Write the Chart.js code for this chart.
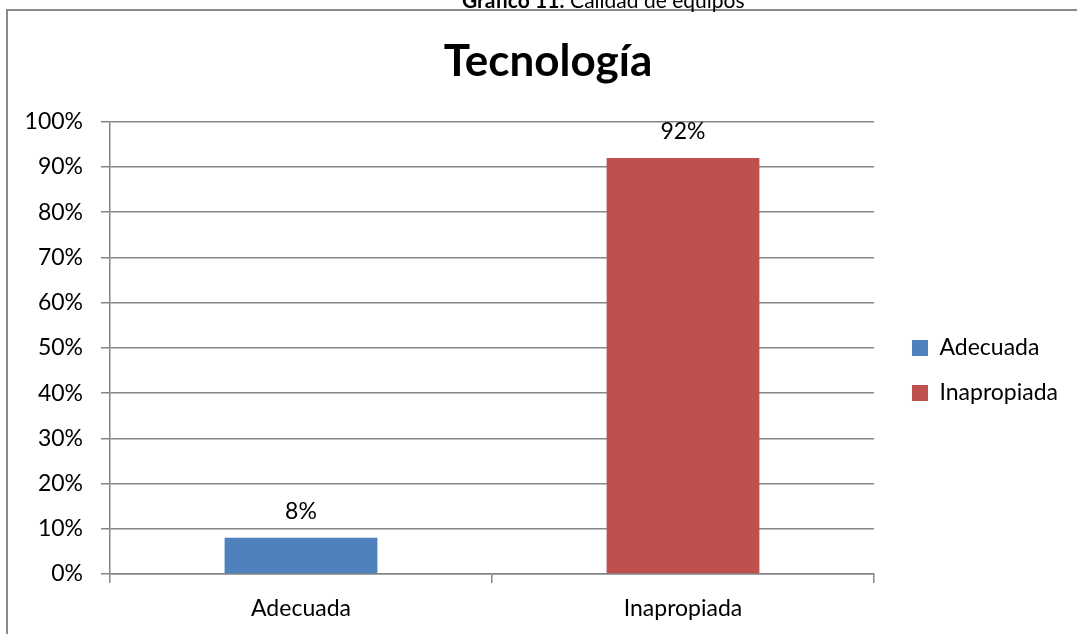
<!DOCTYPE html>
<html>
<head>
<meta charset="utf-8">
<script src="https://cdn.jsdelivr.net/npm/chart.js@4.4.0/dist/chart.umd.min.js"></script>
<style>
  body { margin: 0; background: #fff; overflow: hidden; font-family: Lato, sans-serif; }
  #caption { position: absolute; left: 462px; top: -11px; font-size: 21px; line-height: 1; white-space: nowrap; color: #000; }
  #frame { position: absolute; left: 6px; top: 9px; width: 1200px; height: 700px; border: 2px solid #8a8a8a; }
  #chart { display: block; }
</style>
</head>
<body>
<div id="frame"><canvas id="chart" width="1069" height="623"></canvas></div>
<div id="caption"><b>Gráfico 11:</b> Calidad de equipos</div>
<script>
// chart data
const categories = ["Adecuada", "Inapropiada"];
const seriesNames = ["Adecuada", "Inapropiada"];
const adecuadaValues = [8, null];
const inapropiadaValues = [null, 92];
const yTicks = [0, 10, 20, 30, 40, 50, 60, 70, 80, 90, 100];

const blue = "#4F81BD";
const red = "#C0504D";
const gridGray = "#868686";

Chart.defaults.font.family = "Lato, sans-serif";
Chart.defaults.color = "#000";

// value labels on top of the bars
const barLabels = {
  id: "barLabels",
  afterDatasetsDraw(chart) {
    const ctx = chart.ctx;
    ctx.save();
    ctx.font = "23px Lato";
    ctx.fillStyle = "#000";
    ctx.textAlign = "center";
    ctx.textBaseline = "alphabetic";
    chart.data.datasets.forEach((ds, i) => {
      chart.getDatasetMeta(i).data.forEach((bar, j) => {
        if (ds.data[j] == null) return;
        ctx.fillText(ds.data[j] + "%", bar.x, bar.y - 19);
      });
    });
    ctx.restore();
  },
};

// excel puts the legend lower / further right and the title a bit right
const layoutNudge = {
  id: "layoutNudge",
  afterLayout(chart) {
    const lg = chart.legend;
    lg.left += 16; lg.right += 16;
    lg.top += 22.5; lg.bottom += 22.5;
    const tb = chart.titleBlock;
    tb.left += 18; tb.right += 18;
  },
};

const ctx = document.getElementById("chart").getContext("2d");
const chart = new Chart(ctx, {
  type: "bar",
  data: {
    labels: categories,
    datasets: [
      { label: seriesNames[0], data: adecuadaValues, backgroundColor: blue, grouped: false },
      { label: seriesNames[1], data: inapropiadaValues, backgroundColor: red, grouped: false },
    ],
  },
  options: {
    responsive: false,
    animation: false,
    barPercentage: 0.4,
    categoryPercentage: 1,
    layout: { padding: { left: 0, right: 25, top: 0, bottom: 0 } },
    plugins: {
      title: {
        display: true,
        text: "Tecnología",
        font: { size: 44, weight: "bold" },
        color: "#000",
        padding: { top: 24, bottom: 34 },
      },
      legend: {
        position: "right",
        fullSize: false,
        labels: { boxWidth: 16, boxHeight: 16, padding: 22, font: { size: 23 }, color: "#000" },
      },
      tooltip: { enabled: false },
    },
    scales: {
      x: {
        grid: { drawOnChartArea: false, color: gridGray, lineWidth: 1.5, tickLength: 9 },
        border: { color: gridGray, width: 1.5 },
        ticks: { font: { size: 23 }, padding: 12 },
        afterFit(scale) { scale.height = 60; },
      },
      y: {
        min: 0,
        max: 100,
        afterBuildTicks(scale) { scale.ticks = yTicks.map((v) => ({ value: v })); },
        grid: { color: gridGray, lineWidth: 1.5, tickLength: 9 },
        border: { color: gridGray, width: 1.5 },
        ticks: { font: { size: 23 }, padding: 18, callback: (v) => v + "%" },
        afterFit(scale) { scale.width = 102; },
      },
    },
  },
  plugins: [barLabels, layoutNudge],
});
</script>
</body>
</html>
